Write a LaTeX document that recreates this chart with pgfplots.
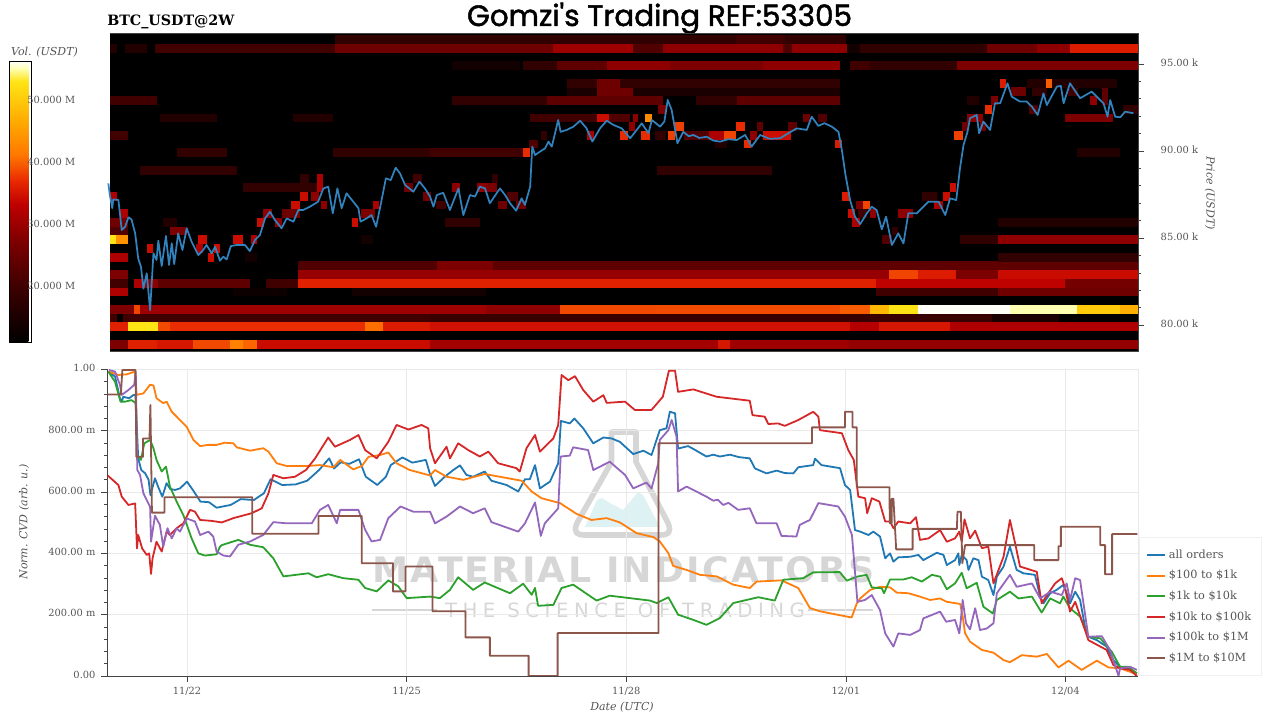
\documentclass[border=0pt]{standalone}
\usepackage{fontspec}
\setmainfont{DejaVu Serif}
\newfontfamily\wmfont[LetterSpace=6]{DejaVu Sans Bold}
\newfontfamily\wmsub[LetterSpace=28]{DejaVu Sans}
\newfontfamily\titlefont[FakeBold=1.6]{Poppins}
\usepackage{pgfplots}
\pgfplotsset{compat=1.18}
\definecolor{cblue}{HTML}{1F77B4}
\definecolor{corange}{HTML}{FF7F0E}
\definecolor{cgreen}{HTML}{2CA02C}
\definecolor{cred}{HTML}{D62728}
\definecolor{cpurple}{HTML}{9467BD}
\definecolor{cbrown}{HTML}{8C564B}
\definecolor{pline}{HTML}{3182BD}
\definecolor{gridc}{HTML}{E9E9E9}
\definecolor{labc}{HTML}{555555}
\definecolor{spine}{HTML}{444444}
\definecolor{wm}{HTML}{D6D6D6}
\definecolor{wmteal}{HTML}{DFF2F3}
% heat map cells: price row centre (k USDT), start and end (hours since 11/22 00:00), volume (M USDT)
\def\segs{}
\def\S#1#2#3#4{\xdef\segs{\segs(#2,#1)[#4](#3,#1)[#4]}}
% k=0
\S{78.9}{-25.25}{-19.2}{27}\S{78.9}{-19.2}{-15.4}{36}\S{78.9}{-15.4}{-10}{36}\S{78.9}{-10}{2}{35}\S{78.9}{2}{14}{38.5}\S{78.9}{14}{18.5}{42}\S{78.9}{18.5}{23}{40}\S{78.9}{23}{79.7}{34}\S{78.9}{79.7}{174}{30.5}\S{78.9}{174}{178}{35}\S{78.9}{178}{217}{30}\S{78.9}{217}{311.8}{29}
% k=2
\S{79.9}{-25.25}{-19.2}{36}\S{79.9}{-19.2}{-9.4}{52.8}\S{79.9}{-9.4}{-5.6}{38.6}\S{79.9}{-5.6}{58.4}{37}\S{79.9}{58.4}{64.4}{40.5}\S{79.9}{64.4}{79.7}{35.5}\S{79.9}{79.7}{217.4}{34.5}\S{79.9}{217.4}{227}{32}\S{79.9}{227}{250}{35}\S{79.9}{250}{311.8}{31.5}
% k=3
\S{80.4}{-25.25}{-23}{20}\S{80.4}{-21}{79.7}{20}\S{80.4}{79.7}{264}{19}\S{80.4}{264}{286}{14.5}
% k=4
\S{80.9}{-25.25}{-17.4}{27}\S{80.9}{-17.4}{-15.4}{38.2}\S{80.9}{-15.4}{98}{30}\S{80.9}{98}{122.3}{28.6}\S{80.9}{122.3}{154}{38.5}\S{80.9}{154}{214}{38.6}\S{80.9}{214}{224}{39.5}\S{80.9}{224}{230}{48}\S{80.9}{230}{239.8}{52.8}\S{80.9}{239.8}{269.9}{56}\S{80.9}{269.9}{291.7}{54.9}\S{80.9}{291.7}{306}{50}\S{80.9}{306}{311.8}{47}
% k=6
\S{81.9}{-25.25}{-19.2}{31.4}\S{81.9}{15}{32.7}{12.5}\S{81.9}{54}{98}{13.6}\S{81.9}{226}{266}{20}\S{81.9}{266}{311.8}{25.3}
% k=7
\S{82.4}{-25.25}{-19.2}{20}\S{82.4}{-17.4}{-14.3}{31.4}\S{82.4}{-14.3}{-9.4}{28.6}\S{82.4}{-9.4}{20.7}{23.5}\S{82.4}{26}{36.5}{20}\S{82.4}{36.5}{226}{36}\S{82.4}{226}{288}{33}\S{82.4}{288}{311.8}{26}
% k=8
\S{82.9}{-25.25}{-19.2}{27}\S{82.9}{36.5}{230}{29.3}\S{82.9}{230}{239.8}{38.2}\S{82.9}{239.8}{252}{35.6}\S{82.9}{252}{266}{27}\S{82.9}{266}{311.8}{34}
% k=9
\S{83.4}{36.5}{82}{21.8}\S{83.4}{82}{100.4}{27}\S{83.4}{100.4}{311.8}{23.5}
% k=10
\S{83.9}{-25.25}{-19.2}{31.4}\S{83.9}{7}{9}{34.1}\S{83.9}{19}{23}{13.6}\S{83.9}{266}{311.8}{17.9}
% k=11
\S{84.4}{-13.2}{-11.3}{34.1}\S{84.4}{3}{5.3}{31.4}\S{84.4}{9}{10.8}{34.1}
% k=12
\S{84.9}{-25.25}{-23.3}{52.8}\S{84.9}{-23.3}{-19.2}{44}\S{84.9}{3.7}{6.4}{34.1}\S{84.9}{15.2}{18.5}{34.1}\S{84.9}{21}{23}{31.4}\S{84.9}{57}{61}{13.6}\S{84.9}{228}{231}{21.8}\S{84.9}{253.5}{266}{17.9}\S{84.9}{266}{311.8}{28.6}
% k=13
\S{85.4}{-25.25}{-19.2}{21.8}\S{85.4}{-5.6}{0}{27}\S{85.4}{231}{233}{17.9}
% k=14
\S{85.9}{-25.25}{-19.2}{25.3}\S{85.9}{-8}{-3.4}{15.7}\S{85.9}{23}{25.2}{34.1}\S{85.9}{29}{31}{28.6}\S{85.9}{54}{56.2}{34.1}\S{85.9}{84.6}{96}{17.9}\S{85.9}{218}{220.5}{31.4}\S{85.9}{266}{311.8}{15.7}
% k=15
\S{86.4}{-22}{-19.2}{31.4}\S{86.4}{25}{28}{28.6}\S{86.4}{31}{37}{25.3}\S{86.4}{57}{61.5}{27}\S{86.4}{216.8}{219}{34.1}\S{86.4}{220}{223}{20}\S{86.4}{224}{226}{28.6}\S{86.4}{233}{238}{28.6}
% k=16
\S{86.9}{34}{37}{34.1}\S{86.9}{44}{46}{28.6}\S{86.9}{61}{63}{31.4}\S{86.9}{81.5}{85}{20}\S{86.9}{102}{105}{25.3}\S{86.9}{108}{111}{25.3}\S{86.9}{219.5}{221.5}{27}\S{86.9}{221.5}{224}{38.2}\S{86.9}{245}{248}{31.4}
% k=17
\S{87.4}{-25.25}{-23}{31.4}\S{87.4}{37}{39.6}{34.1}\S{87.4}{40.5}{43.3}{28.6}\S{87.4}{77.5}{80}{25.3}\S{87.4}{105}{108.5}{21.8}\S{87.4}{214.8}{217.4}{35.6}\S{87.4}{241}{246}{17.9}\S{87.4}{248}{250}{34.1}
% k=18
\S{87.9}{18.5}{42.5}{17.9}\S{87.9}{42.5}{44.7}{31.4}\S{87.9}{71}{74}{25.3}\S{87.9}{87}{89.5}{28.6}\S{87.9}{95}{98}{28.6}\S{87.9}{98}{101.5}{27}\S{87.9}{250}{252}{34.1}
% k=19
\S{88.4}{37}{40}{17.9}\S{88.4}{42.5}{44.7}{31.4}\S{88.4}{74}{77}{20}\S{88.4}{100}{102}{17.9}
% k=20
\S{88.9}{-15.4}{16.3}{17.9}\S{88.9}{154}{191.7}{17.9}
% k=22
\S{89.9}{-3.4}{13}{17.9}\S{89.9}{48}{79.7}{17.9}\S{89.9}{79.7}{110.3}{20}\S{89.9}{110.3}{112.5}{36.9}\S{89.9}{291.7}{306}{15.7}
% k=23
\S{90.4}{112}{115}{21.8}\S{90.4}{173}{177}{15.7}\S{90.4}{182.5}{185}{36.9}\S{90.4}{212.5}{214.6}{35.6}
% k=24
\S{90.9}{-25.25}{-19.2}{20}\S{90.9}{116}{118}{17.9}\S{90.9}{131}{133.5}{31.4}\S{90.9}{142}{144.7}{36.9}\S{90.9}{149}{151.8}{36.9}\S{90.9}{153.5}{157}{17.9}\S{90.9}{157.7}{160}{38}\S{90.9}{162.8}{171}{21.8}\S{90.9}{171}{176}{31.4}\S{90.9}{176}{180}{38.2}\S{90.9}{184.5}{187}{28.6}\S{90.9}{189}{198}{34.1}\S{90.9}{251.5}{254.3}{38}
% k=25
\S{91.4}{145}{147}{28.6}\S{91.4}{160}{162.8}{38}\S{91.4}{180}{183}{36.9}\S{91.4}{187}{189}{23.5}\S{91.4}{197}{200}{23.5}\S{91.4}{254}{256}{25.3}\S{91.4}{260}{262}{25.3}
% k=26
\S{91.9}{-8.9}{9.7}{15.7}\S{91.9}{34.9}{48}{15.7}\S{91.9}{112.5}{134.3}{20}\S{91.9}{134.3}{138.2}{34.1}\S{91.9}{138.2}{145.3}{21.8}\S{91.9}{146.3}{148}{28.6}\S{91.9}{150.2}{152.4}{43}\S{91.9}{202}{204.3}{25.3}\S{91.9}{207}{209.7}{21.8}\S{91.9}{255.6}{261.1}{28.6}\S{91.9}{288}{303.7}{27}
% k=27
\S{92.4}{154.5}{157.3}{27}\S{92.4}{261.5}{264}{36.9}\S{92.4}{276}{279}{21.8}\S{92.4}{307}{311.8}{17.9}
% k=28
\S{92.9}{-25.25}{-10}{20}\S{92.9}{86.8}{118}{17.9}\S{92.9}{118}{156.2}{23.5}\S{92.9}{167}{180.2}{17.9}\S{92.9}{180.2}{214}{23.5}\S{92.9}{255.7}{259.5}{15.7}\S{92.9}{263.5}{266}{27}\S{92.9}{296}{298.5}{28.6}\S{92.9}{300}{302}{23.5}
% k=29
\S{93.4}{124.5}{214}{14.5}\S{93.4}{134.3}{146.3}{25.3}\S{93.4}{270}{275}{25.3}\S{93.4}{277}{282}{17.9}\S{93.4}{289}{292}{20}\S{93.4}{300}{302}{23.5}
% k=30
\S{93.9}{124.5}{214}{17.9}\S{93.9}{134.3}{142}{25.3}\S{93.9}{266.6}{268.5}{35.6}\S{93.9}{275.3}{304.8}{15.7}\S{93.9}{281.7}{283.6}{39.5}
% k=32
\S{94.9}{86.8}{109.2}{13.6}\S{94.9}{110.3}{121.2}{17.9}\S{94.9}{121.2}{137.6}{23.5}\S{94.9}{137.6}{158.4}{28.6}\S{94.9}{158.4}{189}{27}\S{94.9}{189}{214}{28.6}\S{94.9}{217.4}{224}{20}\S{94.9}{224}{252.4}{17.9}\S{94.9}{252.4}{311.8}{27}
% k=34
\S{95.9}{-25.25}{-23}{15.7}\S{95.9}{-20.3}{-13.2}{15.7}\S{95.9}{-10.5}{48.5}{20}\S{95.9}{48.5}{120}{25.3}\S{95.9}{120}{146.3}{30}\S{95.9}{146.3}{156.2}{21.8}\S{95.9}{156.2}{195.5}{28.6}\S{95.9}{195.5}{198.3}{21.8}\S{95.9}{198.3}{216.3}{28.6}\S{95.9}{216.3}{220.7}{13.6}\S{95.9}{220.7}{262.2}{17.9}\S{95.9}{262.2}{278.6}{25.3}\S{95.9}{278.6}{289.5}{28.6}\S{95.9}{289.5}{311.8}{35.6}
% k=35
\S{96.4}{48.5}{180}{17.9}\S{96.4}{180}{196}{20}\S{96.4}{196}{216}{17.9}
\def\heatplot#1{\addplot[patch,patch type=line,shader=flat,line width=6.6pt,point meta=explicit,forget plot] coordinates {#1};}
\begin{document}
\begin{tikzpicture}[x=0.75pt,y=0.75pt]
\useasboundingbox (0,0) rectangle (1280,720);
% title
\node[anchor=base west,inner sep=0pt,font=\bfseries\fontsize{10.7pt}{12pt}\selectfont] at (107,720-26) {BTC\_USDT@2W};
\node[anchor=base,inner sep=0pt] at (659.5,720-26) {\resizebox{288.75pt}{!}{\titlefont\fontsize{24pt}{26pt}\selectfont Gomzi's Trading REF:53305}};
\node[anchor=center,inner sep=0pt,font=\itshape\fontsize{8.25pt}{10pt}\selectfont,text=labc] at (44.5,720-52) {Vol. (USDT)};
% watermark
\fill[wmteal] (585,720-527) -- (597,720-500) -- (602,720-498) -- (610,720-503) -- (623,720-510) -- (638,720-492) -- (643,720-495) -- (660,720-527) -- cycle;
\draw[wm,line width=4.2pt,line join=round] (611.5,720-432) -- (636,720-432) -- (636,720-462) -- (668,720-523) .. controls (672,720-533) and (668,720-535) .. (660,720-535) -- (585,720-535) .. controls (577,720-535) and (573,720-533) .. (577,720-523) -- (611.5,720-462) -- cycle;
\node[anchor=south west,inner sep=0pt,text=wm] at (372,720-583.5) {\resizebox{377pt}{19.5pt}{\wmfont MATERIAL INDICATORS}};
\node[anchor=center,inner sep=0pt,text=wm] at (625,720-610.5) {\resizebox{270pt}{!}{\wmsub\fontsize{14pt}{16pt}\selectfont THE SCIENCE OF TRADING}};
\draw[wm,line width=1pt] (372,720-610) -- (437,720-610);
\draw[wm,line width=1pt] (808,720-610) -- (873,720-610);
\draw[gridc,line width=0.6pt] (1138,720-369.5) -- (1138,720-676);
% heat map with price line
\begin{axis}[
  at={(82.5pt,276.75pt)},anchor=south west,
  width=771pt,height=238.5pt,scale only axis,
  xmin=-25.25,xmax=311.8,ymin=78.51,ymax=96.78,
  clip=false,
  axis background/.style={fill=black},
  axis line style={draw=none},
  xtick=\empty,
  ytick pos=right,
  ytick={80,85,90,95},
  yticklabels={80.00 k,85.00 k,90.00 k,95.00 k},
  minor y tick num=4,
  tick align=outside,
  major tick length=4.5pt,minor tick length=2.5pt,
  tick style={draw=spine,line width=0.5pt},
  yticklabel style={font=\fontsize{7.4pt}{9pt}\selectfont,text=labc,anchor=west,xshift=9pt,yshift=0.7pt},
  ylabel={Price (USDT)},
  every axis y label/.style={at={(axis description cs:1.07,0.497)},rotate=-90,anchor=center,font=\itshape\fontsize{8.25pt}{10pt}\selectfont,text=labc},
  colormap={volhot}{rgb255(0)=(0,0,0) rgb255(192)=(60,0,0) rgb255(369)=(130,0,0) rgb255(488)=(190,0,0) rgb255(572)=(232,40,0) rgb255(667)=(255,120,0) rgb255(784)=(255,170,0) rgb255(927)=(255,228,20) rgb255(974)=(255,255,180) rgb255(1000)=(255,255,255)},
  point meta min=10.8,point meta max=56.1,
  colorbar,
  colorbar style={
    at={(parent axis.north west)},anchor=north west,xshift=-84pt,yshift=-21pt,
    width=16.5pt,height=210.75pt,
    ytick={20,30,40,50},
    yticklabels={20.000 M,30.000 M,40.000 M,50.000 M},
    yticklabel pos=right,
    yticklabel style={font=\fontsize{7.4pt}{9pt}\selectfont,text=labc,anchor=west,xshift=-6.5pt,yshift=-0.6pt},
    major tick length=0pt,
    axis line style={draw=black,line width=0.5pt},
  },
]
\expandafter\heatplot\expandafter{\segs}
\addplot[pline,line width=1.3pt,line join=round,forget plot] coordinates {(-25.8,88.14)(-25.3,87.47)(-24.5,86.71)(-24.2,87.22)(-22.5,87.19)(-21.4,85.46)(-20.3,85.65)(-19.2,86.19)(-18.2,86.07)(-17,85.27)(-16,83.83)(-15.1,83.35)(-14.3,82.1)(-13.2,82.97)(-12.1,80.86)(-11,84.12)(-10,83.74)(-9.4,84.85)(-8.3,83.39)(-6.9,85.12)(-5.9,83.45)(-5,84.7)(-4.2,83.5)(-2.9,85.27)(-1.5,84.31)(-0.1,85.56)(1.5,84.79)(3.7,84.02)(5.3,84.31)(6.4,84.6)(8.1,84.12)(9.2,84.5)(10.8,83.7)(11.9,83.93)(13,83.77)(14.4,84.54)(16.3,84.6)(19,84.6)(20.6,84.25)(22.3,84.89)(23.9,85.17)(25.6,86.13)(27.2,86.51)(28.8,86.04)(31,85.56)(32.7,86.13)(34.9,85.94)(36.5,86.61)(38.1,86.61)(40.3,86.8)(43,87.09)(44.7,87.85)(46.3,87.95)(47.8,86.42)(49.3,87.85)(50.7,86.71)(52.3,87.57)(54.5,87.09)(56.2,86.71)(56.9,85.94)(58.9,86.13)(60.5,86.32)(62,85.65)(63.8,87.18)(65.2,88.43)(66.8,88.33)(68.4,89.04)(69.8,88.72)(71.5,88.05)(74.2,87.66)(76.2,88.24)(78,87.85)(79.7,87.38)(80.8,86.8)(81.9,87.47)(84,87.6)(86.2,86.61)(89,87.85)(90.6,86.32)(92.8,87.47)(94.4,87.38)(96,87.95)(97.7,87.85)(99.3,87)(102.6,87.85)(104.3,87.47)(105.9,87)(107.9,86.57)(109.7,87.28)(110.8,86.9)(112.5,87.95)(113.2,90.25)(114.1,89.77)(115.7,89.96)(117.4,90.15)(118.5,90.54)(119.6,90.25)(121.7,91.78)(122.5,91.1)(124.5,91.21)(126.7,91.4)(128.9,91.74)(131,91.3)(132.9,90.54)(135.4,91.3)(137.6,91.74)(139.8,91.5)(142.5,91.3)(145.3,90.73)(149.1,91.59)(151.3,91.02)(152.4,91.78)(155.1,91.4)(156.5,91.69)(157.6,92.93)(158.9,92.36)(160.8,90.44)(162.7,91.1)(164.5,90.85)(166,90.92)(168,90.75)(170.4,90.82)(172.5,90.6)(174.8,90.54)(177.5,90.68)(180.2,90.63)(183,90.92)(185.1,90.25)(187.9,90.92)(191,90.7)(194.4,90.73)(197,91)(199.9,91.3)(203.2,91.21)(204.8,91.97)(207,91.44)(209,91.6)(211.4,91.4)(213.6,91.1)(214.7,90.06)(215.8,88.72)(217.4,87.18)(219,86.23)(220.7,85.8)(222.9,86.42)(224.5,86.8)(226.1,86.61)(227.8,85.5)(229.2,86.23)(231.1,84.6)(233.2,85.27)(234.9,84.69)(236.5,86.42)(239.3,86.42)(240.9,86.71)(243.1,87.09)(246.4,87.09)(248.6,86.32)(250.2,87.28)(252.2,87.18)(253.5,89.1)(254.6,90.35)(255.9,91.1)(256.7,91.88)(258.9,92.07)(259.7,91.02)(261.1,91.69)(263.3,91.21)(264.9,92.74)(266.6,92.74)(269,93.89)(270.4,93.12)(273.1,92.84)(275.3,92.84)(277,92.55)(278.9,92.07)(280.8,93.31)(281.9,92.64)(285.2,93.7)(286.5,93.74)(287.4,92.74)(289.5,93.89)(292.8,93.03)(296.6,93.41)(300.5,92.74)(301.8,91.97)(302.7,92.93)(304.3,91.97)(306,91.94)(307.6,92.26)(310.3,92.17)};
\draw[spine,line width=0.6pt] (rel axis cs:0,0) -- (rel axis cs:1,0) -- (rel axis cs:1,1) -- (rel axis cs:0,1);
\end{axis}
% cumulative volume delta
\begin{axis}[
  at={(80.625pt,33pt)},anchor=south west,
  width=772.9pt,height=229.9pt,scale only axis,
  xmin=-26.07,xmax=311.8,ymin=0,ymax=1000,
  axis x line=bottom,axis y line=left,
  x axis line style={-,draw=spine,line width=0.7pt},
  y axis line style={-,draw=spine,line width=0.7pt},
  xtick={0,72,144,216,288},
  xticklabels={11/22,11/25,11/28,12/01,12/04},
  ytick={0,200,400,600,800,1000},
  yticklabels={0.00,200.00 m,400.00 m,600.00 m,800.00 m,1.00},
  minor y tick num=4,
  tick align=outside,
  major tick length=4.5pt,minor tick length=2.5pt,
  tick style={draw=spine,line width=0.5pt},
  xmajorgrids,ymajorgrids,
  major grid style={draw=gridc,line width=0.6pt},
  ticklabel style={font=\fontsize{7.4pt}{9pt}\selectfont,text=labc},
  yticklabel style={xshift=-1pt,yshift=1pt},
  xlabel={Date (UTC)},
  ylabel={Norm. CVD (arb. u.)},
  every axis x label/.style={at={(axis description cs:0.4993,-0.101)},anchor=center,font=\itshape\fontsize{8.25pt}{10pt}\selectfont,text=labc},
  every axis y label/.style={at={(axis description cs:-0.081,0.502)},rotate=90,anchor=center,font=\itshape\fontsize{8.25pt}{10pt}\selectfont,text=labc},
  legend style={at={(axis description cs:1.001,0)},anchor=south west,draw=gridc!70,fill=white,line width=0.5pt,font=\fontsize{8.45pt}{10pt}\selectfont,text=labc,row sep=3.6pt,inner xsep=5.25pt,inner ysep=7pt},
  legend cell align=left,
  legend image code/.code={\draw[#1,line width=1.35pt] (0pt,0pt) -- (13.5pt,0pt);},
  every axis plot/.append style={line width=1.35pt,line join=round},
]
\addplot[cblue] coordinates {(-25.8,993)(-23.6,977)(-22,906)(-21.4,895)(-20.9,911)(-19,906)(-17.5,917)(-16.9,917)(-16,710)(-15,672)(-13.7,661)(-12.6,640)(-12,590)(-10.5,645)(-9.5,618)(-8.1,585)(-6.7,629)(-5.5,610)(-3.9,607)(-2.3,612)(0,634)(1.9,607)(4.4,569)(7.2,567)(9.7,549)(14.3,558)(17.6,577)(21.9,574)(25.2,596)(27.4,642)(31.2,623)(35.6,625)(39.4,637)(43.3,672)(46.6,710)(48.2,677)(50.4,697)(53.2,692)(56.4,707)(58.6,650)(62.4,623)(65.2,650)(66.8,688)(70.6,713)(73.9,696)(78.3,705)(79.6,661)(81.3,620)(84.5,650)(87.3,672)(89.5,687)(91.6,656)(93.8,650)(97.6,667)(99.8,637)(104.8,623)(108.6,602)(110.8,642)(112.4,642)(114.1,688)(115.7,612)(119,634)(121.7,694)(122.6,832)(125.5,824)(127,840)(129.9,808)(133.2,759)(136.5,778)(139.2,775)(141.9,764)(146.3,724)(149.6,735)(152.3,721)(155,802)(157.2,808)(158.3,862)(160,857)(161,742)(164.3,750)(167,735)(170.3,716)(172.5,722)(174.7,716)(178,722)(181,714)(184.5,710)(186.2,677)(190,661)(193.3,670)(196,662)(198.8,661)(200.4,681)(205.3,688)(205.9,709)(208,688)(211,683)(214.1,678)(215.7,623)(217.4,607)(219,476)(220.7,471)(223.4,460)(225,471)(227.2,455)(228.9,384)(230.5,400)(231.6,373)(233.2,387)(237.1,389)(239.8,395)(241.4,378)(245.8,402)(248,395)(249.1,362)(251.8,378)(252.9,400)(253.2,362)(254,395)(255.6,378)(256.2,346)(257.8,384)(259.5,378)(260.6,324)(262.7,313)(264.4,264)(265.5,324)(267.7,357)(269.8,422)(272,346)(274.2,335)(278,330)(279.7,259)(280.8,237)(283,270)(285.1,281)(287.3,297)(288.4,270)(289.5,237)(291.2,275)(292.8,248)(294.4,161)(295.5,128)(298.3,117)(301.5,96)(303.7,52)(305.9,30)(308.1,25)(311.4,9)};
\addplot[corange] coordinates {(-25.8,993)(-22.5,982)(-19.8,984)(-17.1,993)(-16.5,917)(-14.3,922)(-12.1,950)(-11,948)(-10,906)(-7.8,890)(-6.7,895)(-5,862)(-2.3,835)(-0.1,813)(2.1,770)(4.3,750)(7,754)(9.7,754)(12.4,761)(15.2,759)(16.3,746)(20.7,735)(25,743)(26.7,732)(29.4,694)(32.7,685)(39.2,685)(43.6,688)(48,681)(50.2,705)(54.5,674)(57.3,685)(59.5,715)(63.3,721)(66,729)(68.7,694)(73,672)(76.4,663)(79.7,654)(81.3,672)(85.1,650)(90.6,640)(97.6,659)(109.7,637)(113,602)(116.2,580)(122.3,564)(127.7,529)(132.6,509)(137.6,515)(141.9,501)(147.4,466)(152.9,453)(155,439)(157.8,401)(159.4,359)(163.8,346)(168.2,330)(173.6,325)(179.1,298)(184.5,287)(186.7,308)(194.9,312)(200.4,287)(204.2,222)(207.5,211)(217.3,192)(217.9,191)(219.6,237)(220.7,253)(224,281)(227.2,291)(230.5,289)(232.7,272)(236.5,270)(240.3,259)(243.6,248)(246.9,253)(249.1,242)(253.5,235)(254.3,194)(255.1,139)(256.7,112)(260.6,85)(264.4,76)(267.7,52)(269.8,45)(273.7,68)(278.6,63)(281.9,72)(285.7,28)(289,50)(293.3,20)(298.3,50)(302.1,28)(305.9,25)(311.4,6)};
\addplot[cgreen] coordinates {(-25.8,993)(-23.6,960)(-21.8,895)(-20.3,895)(-18.2,900)(-16.8,890)(-16.4,721)(-15.1,705)(-14,759)(-12.1,770)(-11,743)(-10,705)(-8.3,667)(-6.9,683)(-5.6,618)(-3.4,569)(-1.2,525)(1.5,449)(3.7,400)(5.9,393)(9.7,397)(10.8,422)(11.4,427)(16.8,444)(20.7,428)(25,420)(28.3,384)(31.6,325)(39.8,335)(42.5,322)(46.3,332)(51.3,319)(56.2,314)(58.4,287)(62.2,276)(66,312)(69.3,292)(72,254)(79.7,259)(82.9,254)(86.2,281)(88.9,322)(93.8,281)(97.6,305)(105.9,270)(110.2,301)(113,265)(114.1,287)(115.1,229)(120.1,232)(122.8,287)(126.6,298)(134.3,246)(138.6,262)(145.2,254)(151.8,246)(154,238)(157.8,257)(161,200)(166,183)(170.3,167)(174.7,189)(179.1,238)(187.3,257)(192.7,246)(195.5,314)(202,319)(205.3,338)(214,339)(216.3,311)(219.6,324)(222.8,330)(224.5,289)(227.8,286)(228.5,270)(230.5,315)(234.9,315)(237.6,322)(240.9,308)(244.2,330)(246.9,324)(249.1,283)(251.8,302)(254,337)(255.6,286)(258.9,304)(261.1,226)(264.2,204)(265.5,248)(269.8,275)(272.6,253)(277,259)(280.2,207)(283,253)(286.2,237)(287.3,259)(289.5,221)(292.8,194)(295.5,128)(299.4,123)(303.2,79)(305.9,30)(308.6,30)(311.4,9)};
\addplot[cred] coordinates {(-26,654)(-22.5,623)(-21.4,585)(-19.2,558)(-17,563)(-16.4,416)(-16,460)(-14.7,416)(-13.2,395)(-12.4,400)(-11.8,333)(-11.3,384)(-10,438)(-8.3,406)(-6.7,471)(-5.6,460)(-3.4,482)(-1.2,498)(1,542)(2.6,536)(4.3,509)(8.1,506)(11.4,501)(15.2,515)(21.2,531)(24.5,547)(26.7,596)(28.3,656)(31.6,645)(35.4,650)(39,672)(42,710)(46.3,778)(48.5,748)(53.4,770)(56.2,786)(58.4,737)(62.2,710)(66,764)(68.7,819)(72.6,804)(76.9,819)(79.1,808)(79.7,743)(81.3,694)(85.1,748)(86.2,710)(88.9,759)(92.2,737)(96,716)(98.8,732)(102,694)(108,678)(109.1,667)(111.3,743)(114.1,786)(115.7,732)(120.1,775)(121.7,819)(122.8,982)(125,965)(127.2,978)(129.9,933)(133.2,895)(136.5,916)(137.6,891)(143.6,895)(146.8,868)(152.3,868)(156,911)(158,996)(160,996)(161,927)(166,935)(173.6,911)(184.5,898)(185.4,851)(189.4,846)(190.6,822)(193.8,824)(196,816)(200.4,835)(205.3,862)(207,846)(207.5,802)(214.7,792)(216.8,737)(218.6,705)(220.1,585)(222.3,580)(223,531)(224.5,580)(227,569)(228.9,504)(230.5,504)(231.6,482)(233.2,504)(237.1,498)(239,518)(240.3,444)(243.1,449)(246.9,476)(249.1,438)(251.8,449)(253.2,471)(254,438)(254.9,511)(256.7,449)(258.4,474)(260.6,417)(262.7,422)(264.4,302)(267.7,389)(269.8,509)(271.5,433)(273.1,357)(278.6,340)(280.2,237)(282.4,270)(284.6,302)(286.8,319)(287.9,286)(289.5,210)(291.2,242)(294.4,150)(295.5,117)(301.5,85)(303.7,36)(305.9,25)(309.2,20)(311.4,0)};
\addplot[cpurple] coordinates {(-25.6,998)(-23.6,993)(-22,950)(-21.4,917)(-19.2,933)(-17.3,950)(-16.8,993)(-16.3,672)(-15.4,656)(-14.3,596)(-12.1,552)(-11.8,438)(-10.5,523)(-8.9,493)(-7.8,422)(-6.4,482)(-5,449)(-3.4,482)(-2.3,471)(-0.1,514)(2.6,504)(4.3,460)(7,471)(8.6,455)(9.7,406)(11.9,393)(14.1,390)(16.8,428)(20.7,439)(25,460)(28.3,502)(32.7,498)(40.9,498)(43.6,542)(46.3,558)(49.1,498)(50.2,542)(56.2,542)(58.4,477)(60.5,439)(63.3,444)(66,515)(70,553)(74.2,536)(79.7,536)(81.3,498)(85.1,520)(89.5,553)(93.8,531)(97.6,547)(99.8,502)(108.6,471)(110.8,498)(114.1,566)(116,457)(117.3,498)(121.7,547)(122.5,716)(125.5,719)(126.6,746)(131.5,737)(133.2,672)(138.6,699)(143.6,656)(146.3,612)(150.6,631)(152.3,612)(154.5,694)(155,770)(157.8,802)(158.9,835)(160.5,781)(161,602)(163.8,618)(170.3,585)(172.5,572)(174,575)(175.8,558)(177.5,565)(180.7,542)(184.5,547)(186.7,498)(193.3,498)(194.9,457)(199.8,455)(200.9,493)(204.2,509)(207,564)(213.5,553)(215.7,520)(218,460)(219.8,242)(222.3,248)(224.5,264)(227.2,215)(228.9,139)(231.6,96)(233.2,139)(237.1,134)(240.3,150)(241.4,188)(246.9,210)(248.9,177)(251.8,183)(253.2,139)(253.7,183)(254.3,248)(255.4,172)(256.7,152)(258.4,221)(260,150)(262.2,155)(264.4,172)(265.5,270)(269.8,330)(272,291)(277,302)(279.7,253)(283,275)(286.8,264)(288.4,302)(289.5,248)(291.2,319)(292.8,313)(295.5,128)(299.9,130)(302.6,85)(305.4,0)(305.9,25)(309.2,30)(311.4,20)};
\addplot[cbrown] coordinates {(-26,918)(-21.7,918)(-21.2,998)(-16.9,998)(-16.6,715)(-14.4,715)(-14.4,775)(-12.3,775)(-12,884)(-11.5,533)(-7.4,533)(-7.4,583)(21.4,583)(21.4,464)(43.1,464)(43.1,522)(57.3,522)(57.3,368)(67.5,368)(67.5,276)(71.6,276)(71.6,357)(80.5,357)(80.5,211)(91.3,211)(91.3,126)(99.3,126)(99.3,66)(112,66)(112,0)(121.5,0)(121.5,140)(154.6,140)(154.6,759)(204.9,759)(204.9,811)(215.7,811)(215.7,862)(218.2,862)(218.2,811)(219.6,811)(219.6,616)(230.3,616)(230.4,498)(231,498)(231,578)(231.6,578)(232.5,413)(237.9,413)(237.9,480)(252.4,480)(252.6,536)(253.7,536)(254.2,368)(255.1,427)(277.8,427)(277.8,378)(285.7,378)(285.7,423)(286.5,423)(286.5,487)(299.4,487)(299.4,427)(301,427)(301,332)(303.3,332)(303.3,463)(311.6,463)};
\legend{all orders,\$100 to \$1k,\$1k to \$10k,\$10k to \$100k,\$100k to \$1M,\$1M to \$10M}
\end{axis}
\end{tikzpicture}
\end{document}
